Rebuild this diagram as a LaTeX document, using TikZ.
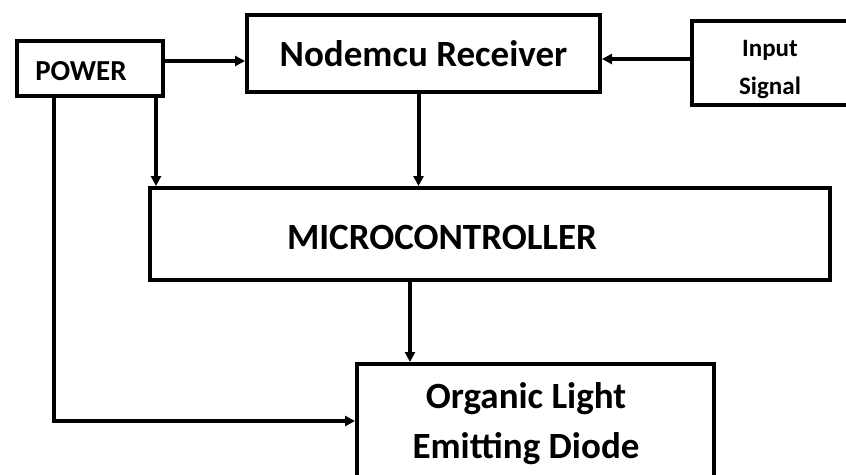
\documentclass[tikz,border=0pt]{standalone}
\usepackage{fontspec}
\setmainfont{Carlito}
\usetikzlibrary{arrows.meta,positioning}
\tikzset{
  blk/.style  ={rectangle, draw=black, line width=4pt, inner sep=0pt,
                 font=\bfseries, align=center},
  lbl/.style  ={font=\bfseries, align=center, inner sep=0pt},
  fl/.style   ={-{Triangle[length=10pt,width=10pt]}, line width=4pt, draw=black},
}
\begin{document}
\begin{tikzpicture}[x=1pt,y=-1pt]
\useasboundingbox (0,0) rectangle (846,474);
\clip (0,0) rectangle (846,474);
\node[blk, minimum width=146pt, minimum height=55pt] (power) at (90,68.5) {};
\node[lbl, font=\bfseries\fontsize{29}{32}\selectfont] (powertxt) at (81,71.5) {POWER};
\node[blk, minimum width=353pt, minimum height=77pt, font=\bfseries\fontsize{37}{40}\selectfont]
   (recv) at (423.5,53.5) {Nodemcu Receiver};
\node[blk, minimum width=158pt, minimum height=84pt] (sig) at (771,63) {};
\node[lbl, font=\bfseries\fontsize{25}{38}\selectfont] (sigtxt) at (770,70) {Input\\Signal};
\node[blk, minimum width=680pt, minimum height=92pt] (micro) at (490,234) {};
\node[lbl, font=\bfseries\fontsize{37}{40}\selectfont] (microtxt) at (442,237) {MICROCONTROLLER};
\node[blk, minimum width=357pt, minimum height=126pt] (oled) at (535.5,427) {};
\node[lbl, font=\bfseries\fontsize{37}{50}\selectfont] (oledtxt) at (526,424)
   {Organic Light\\Emitting Diode};
% connectors
\draw[fl] ([yshift=7.5pt]power.east) -- ([yshift=7.5pt]power.east -| recv.west);
\draw[fl] ([yshift=4pt]sig.west) -- ([yshift=4pt]sig.west -| recv.east);
\draw[fl] ([xshift=66pt]power.south) -- ([xshift=66pt]power.south |- micro.north);
\draw[fl] ([xshift=-5pt]recv.south) -- ([xshift=-5pt]recv.south |- micro.north);
\draw[fl] ([xshift=-80pt]micro.south) -- ([xshift=-80pt]micro.south |- oled.north);
\draw[fl] ([xshift=-36pt]power.south) |- ([yshift=6pt]oled.west);
\end{tikzpicture}
\end{document}
